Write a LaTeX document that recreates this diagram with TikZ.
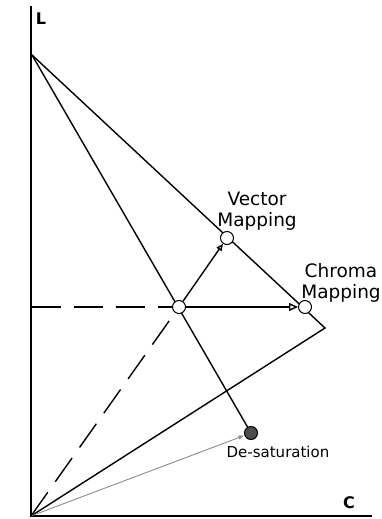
\documentclass[tikz,border=0pt]{standalone}
\usepackage{fontspec}
\setmainfont{DejaVu Sans}
\usetikzlibrary{positioning, arrows.meta}

\begin{document}
\begin{tikzpicture}[x=1pt, y=-1pt, font=\fontsize{18.5}{21}\selectfont,
    ring/.style={circle, draw, fill=white, minimum size=13pt, inner sep=0pt, line width=1pt},
    sat/.style={circle, draw, fill=black!70, minimum size=13pt, inner sep=0pt, line width=1pt},
    bound/.style={line width=1.4pt},
    dashline/.style={line width=1.4pt, dash pattern=on 29pt off 13pt}]
    \useasboundingbox (0,0) rectangle (381,519);
    % axes
    \coordinate (Ltop) at (31,6);
    \coordinate (O) at (31,516);
    \coordinate (Cend) at (372,516);
    \draw[line width=2.2pt] (Ltop) -- (O) -- (Cend);
    \node[font=\bfseries\fontsize{16}{18}\selectfont] (Llab) at (41,19) {L};
    \node[font=\bfseries\fontsize{16}{18}\selectfont] (Clab) at (349,503) {C};
    % gamut and lightness lines
    \coordinate (W) at (32,55);
    \coordinate (cusp) at (325,328);
    \coordinate (Hz) at (32,307);
    \draw[bound] (W) -- (cusp) -- (O);
    \node[sat] (D) at (251,433) {};
    \draw[bound] (W) -- (D);
    \draw[black!45, line width=0.9pt, -{Latex[length=6pt]}] (O) -- (D);
    % mapping points
    \node[ring] (P) at (179,307) {};
    \node[ring] (V) at (227,238) {};
    \node[ring] (Cm) at (305,307) {};
    \draw[dashline] (Hz) -- (P);
    \draw[dashline] (O) -- (P);
    \draw[bound, -{Triangle[open, length=9pt, width=8pt]}] (P) -- (Cm);
    \draw[bound, -{Triangle[open, length=7pt, width=6pt]}] (P) -- (V);
    \foreach \n/\t/\p in {V/{Vector\\Mapping}/{(257,211)}, Cm/{Chroma\\Mapping}/{(341,283)}}
      \node[align=center, inner sep=0pt] (\n lab) at \p {\t};
    \node[font=\fontsize{15}{17}\selectfont, inner sep=0pt] (Dlab) at (278,452) {De-saturation};
\end{tikzpicture}
\end{document}
